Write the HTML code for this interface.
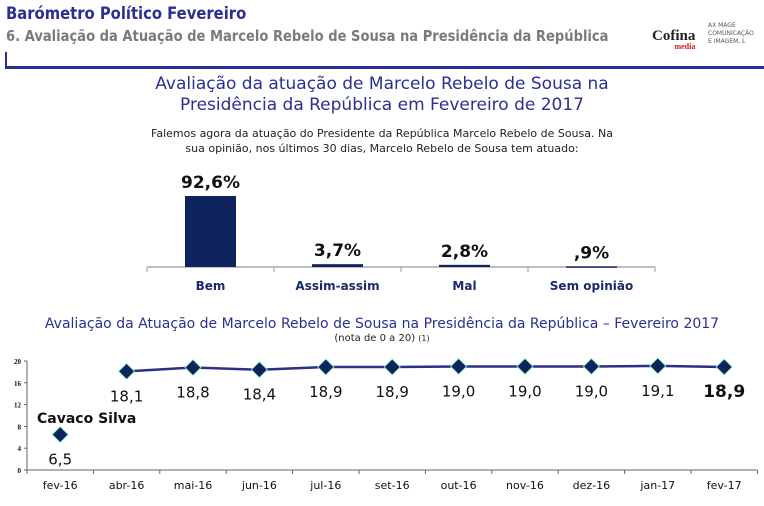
<!DOCTYPE html>
<html><head><meta charset="utf-8"><style>
body{margin:0;width:764px;height:506px;background:#fff;font-family:"DejaVu Sans","Liberation Sans",sans-serif;overflow:hidden;position:relative}
.t{position:absolute;white-space:nowrap}
</style></head><body>
<div class="t" style="left:6px;top:4px;font-size:17px;font-weight:bold;color:#2b2f8f;transform:scaleX(0.87);transform-origin:0 0">Barómetro Político Fevereiro</div>
<div class="t" style="left:6px;top:27px;font-size:15px;font-weight:bold;color:#7a7a7a;transform:scaleX(0.873);transform-origin:0 0">6. Avaliação da Atuação de Marcelo Rebelo de Sousa na Presidência da República</div>
<div class="t" style="left:652px;top:28px;font-family:'Liberation Serif',serif;font-size:15px;font-weight:bold;color:#222">Cofina<div style="font-size:8px;color:#c22;text-align:right;margin-top:-3px">media</div></div>
<div class="t" style="left:708px;top:22px;font-size:6px;color:#555;line-height:8px">AX MAGE<br>COMUNICAÇÃO<br>E IMAGEM, L</div>
<div style="position:absolute;left:5px;top:66px;width:759px;height:3px;background:#2b2f8f"></div>
<div style="position:absolute;left:5px;top:52px;width:2px;height:17px;background:#2b2f8f"></div>
<div class="t" style="left:0;width:764px;text-align:center;top:74px;font-size:17px;line-height:21px;color:#2b2f8f">Avaliação da atuação de Marcelo Rebelo de Sousa na<br>Presidência da República em Fevereiro de 2017</div>
<div class="t" style="left:0;width:764px;text-align:center;top:126px;font-size:11px;line-height:15px;color:#222">Falemos agora da atuação do Presidente da República Marcelo Rebelo de Sousa. Na<br>sua opinião, nos últimos 30 dias, Marcelo Rebelo de Sousa tem atuado:</div>
<div class="t" style="left:0;width:764px;text-align:center;top:316px;font-size:14px;color:#2b2f8f">Avaliação da Atuação de Marcelo Rebelo de Sousa na Presidência da República – Fevereiro 2017</div>
<div class="t" style="left:0;width:764px;text-align:center;top:333px;font-size:10px;color:#222">(nota de 0 a 20) <span style="font-size:8px">(1)</span></div>
<svg id="svg" width="764" height="506" style="position:absolute;left:0;top:0"></svg>
<script>
const barCats=["Bem","Assim-assim","Mal","Sem opinião"];
const barVals=[92.6,3.7,2.8,0.9];
const barLabels=["92,6%","3,7%","2,8%",",9%"];
const lineCats=["fev-16","abr-16","mai-16","jun-16","jul-16","set-16","out-16","nov-16","dez-16","jan-17","fev-17"];
const lineVals=[6.5,18.1,18.8,18.4,18.9,18.9,19.0,19.0,19.0,19.1,18.9];
const lineLabels=["6,5","18,1","18,8","18,4","18,9","18,9","19,0","19,0","19,0","19,1","18,9"];
const yTicks=[0,4,8,12,16,20];
const svg=document.getElementById('svg');
const NS='http://www.w3.org/2000/svg';
function mk(t,a,txt){const e=document.createElementNS(NS,t);for(const k in a)e.setAttribute(k,a[k]);if(txt!=null)e.textContent=txt;svg.appendChild(e);return e;}
const bx0=147,bstep=127,bbase=267,bscale=71/92.6,bw=51;
const bx=i=>bx0+bstep*(i+0.5), by=v=>bbase-v*bscale;
let e=mk('line',{x1:bx0,x2:bx0+bstep*4,y1:bbase,y2:bbase,stroke:'#999','stroke-width':1.2});

for(let i=0;i<=4;i++){e=mk('line',{x1:bx0+bstep*i,x2:bx0+bstep*i,y1:bbase,y2:bbase+5,stroke:'#999'});
}
barVals.forEach((v,i)=>{
 e=mk('rect',{x:bx(i)-bw/2,y:by(v),width:bw,height:Math.max(bbase-by(v),1.5),fill:'#0f245c'});
 
 e=mk('text',{x:bx(i),y:by(v)-8,'text-anchor':'middle','font-size':17,'font-weight':'bold',fill:'#111','font-family':'DejaVu Sans'},barLabels[i]);
 
 e=mk('text',{x:bx(i),y:290,'text-anchor':'middle','font-size':12,'font-weight':'bold',fill:'#1a2a6a','font-family':'DejaVu Sans'},barCats[i]);
 
});
const lx0=27,lstep=66.4,ly0=470,lscale=109/20;
const lx=i=>lx0+lstep*(i+0.5), ly=v=>ly0-v*lscale;
e=mk('line',{x1:lx0,x2:lx0,y1:ly(20),y2:ly0,stroke:'#666'});

e=mk('line',{x1:lx0,x2:lx0+lstep*11,y1:ly0,y2:ly0,stroke:'#666'});

yTicks.forEach(t=>{e=mk('text',{x:lx0-6,y:ly(t)+3,'text-anchor':'end','font-size':7,'font-weight':'bold','font-family':'Liberation Serif',fill:'#111'},String(t));
 
 e=mk('line',{x1:lx0-3,x2:lx0,y1:ly(t),y2:ly(t),stroke:'#666'});});
for(let i=0;i<=11;i++){e=mk('line',{x1:lx0+lstep*i,x2:lx0+lstep*i,y1:ly0,y2:ly0+4,stroke:'#666'});
 }
let pts=lineVals.slice(1).map((v,j)=>lx(j+1)+','+ly(v)).join(' ');
e=mk('polyline',{points:pts,fill:'none',stroke:'#2e2f86','stroke-width':2.5});

lineVals.forEach((v,i)=>{
 const x=lx(i),y=ly(v);
 e=mk('polygon',{points:`${x},${y-8} ${x+8},${y} ${x},${y+8} ${x-8},${y}`,fill:'#0f245c',stroke:'#8fc',"stroke-width":0.8});
 
 const last=i===lineVals.length-1;
 e=mk('text',{x:x,y:y+30,'text-anchor':'middle','font-size':last?17:15,'font-weight':last?'bold':'normal',fill:'#111','font-family':'DejaVu Sans'},lineLabels[i]);
 
 e=mk('text',{x:x,y:489,'text-anchor':'middle','font-size':11,fill:'#111','font-family':'DejaVu Sans'},lineCats[i]);
 
});
e=mk('text',{x:37,y:423,'font-size':14,'font-weight':'bold',fill:'#111','font-family':'DejaVu Sans'},'Cavaco Silva');

</script>
</body></html>
